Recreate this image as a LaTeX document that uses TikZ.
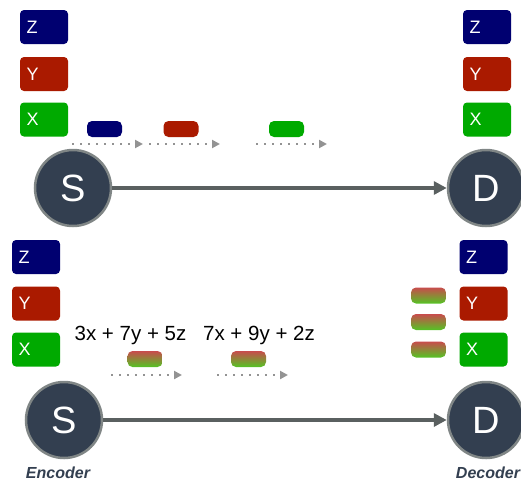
\documentclass[tikz,border=0pt]{standalone}
\usepackage{fontspec}
\setmainfont{Liberation Sans}
\usetikzlibrary{arrows.meta}
\definecolor{zblue}{RGB}{0,0,112}
\definecolor{yred}{RGB}{170,26,0}
\definecolor{xgreen}{RGB}{0,170,0}
\definecolor{slate}{RGB}{51,63,80}
\definecolor{rim}{RGB}{128,134,134}
\definecolor{linkgray}{RGB}{90,96,96}
\definecolor{mixred}{RGB}{200,76,76}
\definecolor{mixgreen}{RGB}{84,196,36}
\tikzset{
  sym/.style={rounded corners=4pt, minimum height=34pt, text width=35pt, inner xsep=6.5pt, inner ysep=0pt,
    align=left, text=white, font=\fontsize{18}{18}\selectfont},
  pkt/.style={rounded corners=5pt, minimum width=35pt, minimum height=16pt, inner sep=0pt},
  mixpkt/.style={pkt, top color=mixred, bottom color=mixgreen},
  hub/.style={circle, minimum size=76pt, inner sep=0pt, fill=slate, draw=rim, line width=2.5pt,
    text=white, font=\fontsize{38}{38}\selectfont},
  flow/.style={linkgray, line width=3.5pt, -{Triangle[length=13pt,width=13pt]}},
  hop/.style={gray!85, line width=2pt, dash pattern=on 2pt off 6pt, -{Triangle[length=8pt,width=8pt]}},
  role/.style={text=slate, font=\fontsize{16}{16}\selectfont\bfseries\itshape}
}

\begin{document}
\begin{tikzpicture}[x=1pt, y=-1pt]
\useasboundingbox (0,0) rectangle (521,485);
\node[sym, fill=zblue] (sz1) at (44,27) {Z};
\node[sym, fill=yred] (sy1) at (44,74) {Y};
\node[sym, fill=xgreen] (sx1) at (44,119.5) {X};
\node[sym, fill=zblue] (dz1) at (487,27) {Z};
\node[sym, fill=yred] (dy1) at (487,74) {Y};
\node[sym, fill=xgreen] (dx1) at (487,119.5) {X};
\node[pkt, fill=zblue] (pz) at (104.5,129) {};
\node[pkt, fill=yred] (py) at (181,129) {};
\node[pkt, fill=xgreen] (px) at (286.5,129) {};
\coordinate (h1a) at (72,144);
\coordinate (h1b) at (143,144);
\coordinate (h2a) at (149,144);
\coordinate (h2b) at (220,144);
\coordinate (h3a) at (256,144);
\coordinate (h3b) at (327,144);
\draw[hop] (h1a) -- (h1b);
\draw[hop] (h2a) -- (h2b);
\draw[hop] (h3a) -- (h3b);
\node[hub] (s1) at (73,188) {S};
\node[hub] (d1) at (486,188) {D};
\draw[flow] (s1) -- (d1);

\node[sym, fill=zblue] (sz2) at (36,257) {Z};
\node[sym, fill=yred] (sy2) at (36,303.5) {Y};
\node[sym, fill=xgreen] (sx2) at (36,349.5) {X};
\node[sym, fill=zblue] (dz2) at (483.5,257) {Z};
\node[sym, fill=yred] (dy2) at (483.5,303.5) {Y};
\node[sym, fill=xgreen] (dx2) at (483.5,349.5) {X};
\node[anchor=base, font=\fontsize{20.5}{20.5}\selectfont] (eq1) at (130.5,340) {3x + 7y + 5z};
\node[anchor=base, font=\fontsize{20.5}{20.5}\selectfont] (eq2) at (259,340) {7x + 9y + 2z};
\node[mixpkt] (m1) at (145,359) {};
\node[mixpkt] (m2) at (248.5,359) {};
\node[mixpkt] (r1) at (428.5,295.5) {};
\node[mixpkt] (r2) at (428.5,322) {};
\node[mixpkt] (r3) at (428.5,349.5) {};
\coordinate (h4a) at (111,375);
\coordinate (h4b) at (182,375);
\coordinate (h5a) at (217,375);
\coordinate (h5b) at (288,375);
\draw[hop] (h4a) -- (h4b);
\draw[hop] (h5a) -- (h5b);
\node[hub] (s2) at (64,420) {S};
\node[hub] (d2) at (486,420) {D};
\draw[flow] (s2) -- (d2);
\node[role] (enc) at (58,473) {Encoder};
\node[role] (dec) at (488,473) {Decoder};
\end{tikzpicture}
\end{document}
